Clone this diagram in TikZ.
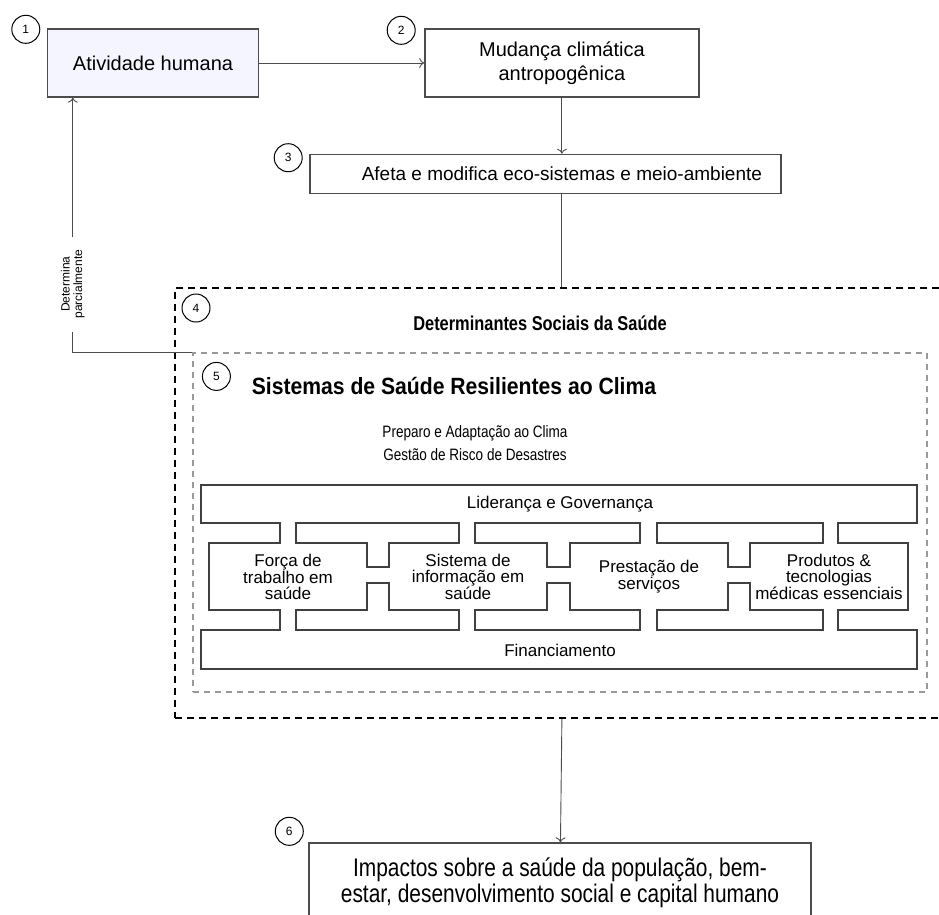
\documentclass[tikz,border=0pt]{standalone}
\usepackage{fontspec}
\setmainfont{Liberation Sans}
\newfontfamily\narrowfont[FakeStretch=0.82]{Liberation Sans}
\newfontfamily\semifont[FakeStretch=0.9]{Liberation Sans}
\usetikzlibrary{positioning, arrows, arrows.meta}

\begin{document}
\begin{tikzpicture}[x=1pt, y=-1pt, node distance=2cm]
        \tikzstyle{box} = [rectangle, draw=black!70, line width=1.4pt, align=center, inner sep=0pt, font=\fontsize{20}{23.5}\selectfont]
        \tikzstyle{num} = [circle, draw=black, line width=1pt, minimum size=28pt, inner sep=0pt, font=\fontsize{12}{14}\selectfont]
        \tikzstyle{arrow} = [line width=0.9pt, draw=black!70, -{To[length=5pt, width=10pt]}]
        \tikzstyle{link} = [line width=0.9pt, draw=black!70]
        \tikzstyle{outerbox} = [rectangle, draw=black, line width=2pt, dash pattern=on 7pt off 5pt, inner sep=0pt]
        \tikzstyle{innerbox} = [rectangle, draw=black!40, line width=1.2pt, dash pattern=on 6pt off 5pt, inner sep=0pt]
        \tikzstyle{blocks} = [line width=1.4pt, draw=black!75]
        \tikzstyle{blocktext} = [align=center, inner sep=0pt, font=\fontsize{17}{15.5}\selectfont]
        \tikzstyle{title} = [inner sep=0pt, font=\narrowfont\bfseries\fontsize{20}{24}\selectfont]

        \useasboundingbox (0,0) rectangle (939,914);

        % top row
        \node (act) [box, fill=blue!4, minimum width=211pt, minimum height=68pt] at (153,63) {Atividade humana};
        \node (mud) [box, minimum width=274pt, minimum height=68pt, right=165pt of act] {Mudança climática\\antropogênica};
        \node (afeta) [box, font=\fontsize{19}{22}\selectfont, minimum width=471pt, minimum height=39pt, below=56pt of mud, xshift=-16.5pt] {\hspace*{33pt}Afeta e modifica eco-sistemas e meio-ambiente};

        % dashed frames
        \node (det) [outerbox, minimum width=767pt, minimum height=430pt] at (558.5,503) {};
        \node (sist) [innerbox, minimum width=734pt, minimum height=339pt] at (560,522.5) {};
        \node (dettitle) [title] at (540,323) {Determinantes Sociais da Saúde};
        \node (sistitle) [title, font=\semifont\bfseries\fontsize{23.5}{28}\selectfont] at (454,386) {Sistemas de Saúde Resilientes ao Clima};
        \node (prep) [inner sep=0pt, align=center, font=\narrowfont\fontsize{16.5}{23}\selectfont] at (475,443) {Preparo e Adaptação ao Clima\\Gestão de Risco de Desastres};

        % building blocks
        \draw [blocks] (201,485) -- (917,485) -- (917,523) -- (838,523) -- (838,543) -- (908,543) -- (908,610) -- (838,610) -- (838,630) -- (917,630) -- (917,669) -- (201,669) -- (201,630) -- (280,630) -- (280,610) -- (209,610) -- (209,543) -- (280,543) -- (280,523) -- (201,523) -- cycle;
        \foreach \a/\b/\s/\t in {296/459/367/389, 475/640/547/570, 657/823/728/750} {
            \draw [blocks] (\a,523) -- (\b,523) -- (\b,543) -- (\t,543) -- (\t,567) -- (\s,567) -- (\s,543) -- (\a,543) -- cycle;
            \draw [blocks] (\a,630) -- (\b,630) -- (\b,610) -- (\t,610) -- (\t,583) -- (\s,583) -- (\s,610) -- (\a,610) -- cycle;
        }
        \node (lid) [blocktext] at (560,504) {Liderança e Governança};
        \node (forca) [blocktext] at (288,577) {Força de\\trabalho em\\saúde};
        \node (sis) [blocktext] at (468,577) {Sistema de\\informação em\\saúde};
        \node (prest) [blocktext] at (649,577) {Prestação de\\serviços};
        \node (prod) [blocktext] at (829,577) {Produtos \&\\tecnologias\\médicas essenciais};
        \node (fin) [blocktext] at (560,650) {Financiamento};

        % bottom box
        \node (imp) [box, font=\narrowfont\fontsize{25.5}{26}\selectfont, minimum width=502pt, minimum height=80pt] at (560,883) {Impactos sobre a saúde da população, bem-\\estar, desenvolvimento social e capital humano};

        % numbers
        \node (n1) [num] at ([xshift=-21pt, yshift=-1pt]act.north west) {1};
        \node (n2) [num] at ([xshift=-23pt, yshift=-2pt]mud.north west) {2};
        \node (n3) [num] at ([xshift=-21pt, yshift=-4pt]afeta.north west) {3};
        \node (n4) [num] at ([xshift=22pt, yshift=-21pt]det.north west) {4};
        \node (n5) [num] at ([xshift=24pt, yshift=-24pt]sist.north west) {5};
        \node (n6) [num] at ([xshift=-19pt, yshift=11pt]imp.north west) {6};

        % connectors
        \draw [arrow] (act) -- (mud);
        \draw [arrow] (mud) -- (mud.south |- afeta.north);
        \draw [link] (afeta.south -| mud) -- (det.north -| mud);
        \draw [arrow] (det.south -| mud) -- (imp);
        \draw [arrow] (sist.north west) -| node[pos=0.63, rotate=90, fill=white, align=center, inner sep=0pt, minimum width=95pt, xshift=2pt, font=\fontsize{12}{12.5}\selectfont] {Determina\\parcialmente} ([xshift=26pt]act.south west);
\end{tikzpicture}
\end{document}
